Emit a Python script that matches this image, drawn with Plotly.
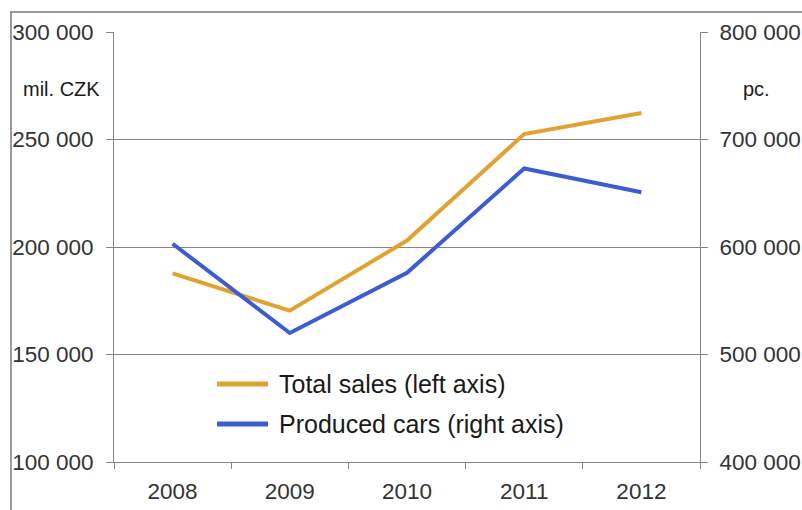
import plotly.graph_objects as go

years = ["2008", "2009", "2010", "2011", "2012"]
total_sales = [187700, 170400, 203000, 252500, 262300]      # mil. CZK (left axis)
produced_cars = [603000, 520000, 576000, 673000, 651000]    # pc. (right axis)
series_names = ["Total sales (left axis)", "Produced cars (right axis)"]
series_colors = ["#E2A232", "#3C5CD2"]

left_ticks = [100000, 150000, 200000, 250000, 300000]
left_labels = ["100 000", "150 000", "200 000", "250 000", "300 000"]
right_ticks = [400000, 500000, 600000, 700000, 800000]
right_labels = ["400 000", "500 000", "600 000", "700 000", "800 000"]

FONT = "Liberation Sans, Arial, sans-serif"
GRID = "#858585"
TXT = "#333333"

# figure fills the whole 802x510 window (page margin removed below)
W, H = 802, 510
PL, PR, PT, PB = 114, 700, 32, 462          # plot area in pixels
L, T = PL, PT
R, B = W - PR, H - PB
pw, ph = PR - PL, PB - PT


def px(x):  # pixel -> paper x
    return (x - PL) / pw


def py(y):  # pixel -> paper y
    return (PB - y) / ph


fig = go.Figure()
fig.add_trace(go.Scatter(
    x=years, y=total_sales, name=series_names[0], mode="lines",
    line=dict(color=series_colors[0], width=4), yaxis="y"))
fig.add_trace(go.Scatter(
    x=years, y=produced_cars, name=series_names[1], mode="lines",
    line=dict(color=series_colors[1], width=4), yaxis="y2"))

shapes = [dict(type="rect", xref="paper", yref="paper",
               x0=px(11), x1=px(830), y0=py(540), y1=py(12),
               line=dict(color="#9a9a9a", width=2), fillcolor="rgba(0,0,0,0)",
               layer="below")]
annotations = [
    dict(text="mil. CZK", xref="paper", yref="paper", x=px(61), y=py(89),
         xanchor="center", yanchor="middle",
         showarrow=False, font=dict(size=20, color="#1a1a1a")),
    dict(text="pc.", xref="paper", yref="paper", x=px(756), y=py(89),
         xanchor="center", yanchor="middle",
         showarrow=False, font=dict(size=20, color="#1a1a1a")),
]
# legend drawn inside the plot area
legend_rows = [384, 424]
for name, color, yy in zip(series_names, series_colors, legend_rows):
    shapes.append(dict(type="line", xref="paper", yref="paper",
                       x0=px(217), x1=px(268), y0=py(yy), y1=py(yy),
                       line=dict(color=color, width=5)))
    annotations.append(dict(text=name, xref="paper", yref="paper",
                            x=px(277), y=py(yy), xanchor="left", yanchor="middle",
                            showarrow=False, font=dict(size=25, color="#1a1a1a")))

fig.update_layout(
    width=W, height=H,
    margin=dict(l=L, r=R, t=T, b=B, autoexpand=False),
    paper_bgcolor="white", plot_bgcolor="white",
    font=dict(family=FONT, size=22, color=TXT),
    showlegend=False,
    xaxis=dict(type="category", showgrid=False, showline=True, linecolor=GRID,
               linewidth=1, ticks="outside", tickson="boundaries", ticklen=6,
               tickcolor=GRID, tickfont=dict(size=22.5, color=TXT), range=[-0.5, 4.5],
               zeroline=False, ticklabelstandoff=9, automargin=False),
    yaxis=dict(range=[100000, 300000], tickvals=left_ticks, ticktext=left_labels,
               showgrid=True, gridcolor=GRID, gridwidth=1, showline=True,
               linecolor=GRID, ticks="outside", ticklen=7, tickcolor=GRID,
               tickfont=dict(size=22.5, color=TXT), zeroline=False,
               ticklabelstandoff=8, automargin=False),
    yaxis2=dict(range=[400000, 800000], tickvals=right_ticks, ticktext=right_labels,
                overlaying="y", side="right", showgrid=False, showline=True,
                linecolor=GRID, ticks="outside", ticklen=7, tickcolor=GRID,
                tickfont=dict(size=22.5, color=TXT), zeroline=False,
                ticklabelstandoff=7, automargin=False),
    shapes=shapes,
    annotations=annotations,
)

fig.write_html(
    "out.html",
    config={"displayModeBar": False},
    post_script=(
        "document.documentElement.style.margin='0';"
        "document.documentElement.style.overflow='hidden';"
        "document.body.style.margin='0';"
        "document.body.style.overflow='hidden';"
    ),
)
